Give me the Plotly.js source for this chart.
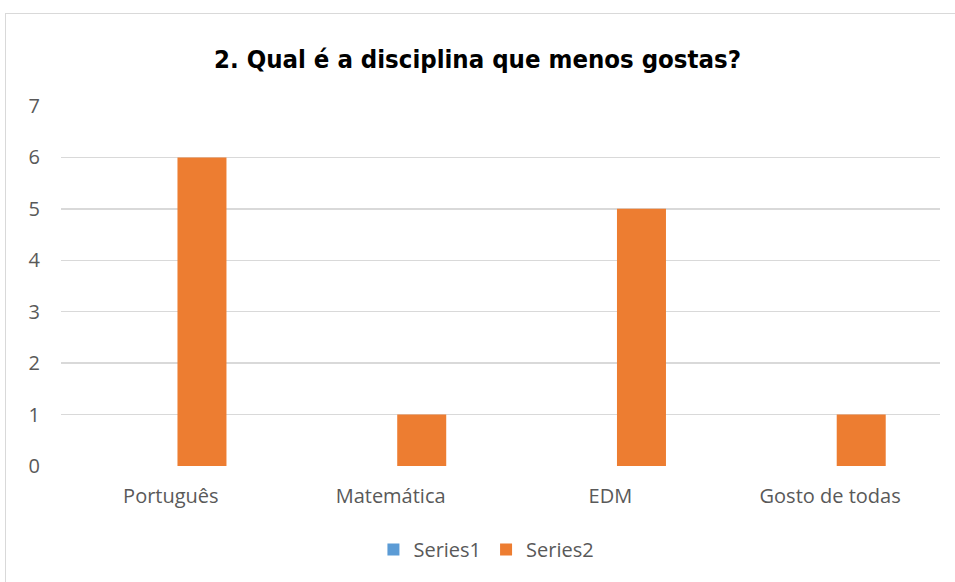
<!DOCTYPE html>
<html>
<head>
<meta charset="utf-8">
<script src="https://cdn.plot.ly/plotly-3.0.1.min.js"></script>
<style>
html,body{margin:0;padding:0;background:#fff;overflow:hidden;}
#frame{position:absolute;left:5px;top:13px;width:980px;height:600px;border:1px solid #D9D9D9;box-sizing:border-box;}
#chart{position:absolute;left:0;top:0;width:955px;height:582px;}
</style>
</head>
<body>
<div id="frame"></div>
<div id="chart"></div>
<script>
const categories = ["Português", "Matemática", "EDM", "Gosto de todas"];
const series1 = [0, 0, 0, 0];
const series2 = [6, 1, 5, 1];
const seriesNames = ["Series1", "Series2"];
const yTicks = [0, 1, 2, 3, 4, 5, 6, 7];

const labelFont = {family: "Open Sans, Segoe UI, sans-serif", size: 20, color: "#595959"};

const traces = [
  {type: "bar", name: seriesNames[0], x: categories, y: series1,
   marker: {color: "#5B9BD5"}, width: 0.223, offset: -0.193},
  {type: "bar", name: seriesNames[1], x: categories, y: series2,
   marker: {color: "#ED7D31"}, width: 0.223, offset: 0.03}
];

const layout = {
  width: 955, height: 582,
  paper_bgcolor: "rgba(0,0,0,0)", plot_bgcolor: "rgba(0,0,0,0)",
  margin: {l: 61, r: 15, t: 106, b: 115.5},
  title: {text: "<b>2. Qual é a disciplina que menos gostas?</b>",
          font: {family: "DejaVu Sans Condensed, sans-serif", size: 25.5, color: "#000"},
          x: 0.5, xanchor: "center", y: 1 - 59/582, yanchor: "middle", yref: "container"},
  barmode: "group",
  showlegend: true,
  legend: {orientation: "h", x: 0.484, xanchor: "center", y: -0.232, yanchor: "middle",
           font: labelFont, itemwidth: 30, traceorder: "normal"},
  xaxis: {type: "category", tickfont: labelFont, showgrid: false, zeroline: false,
          showline: false, ticks: "", ticklabelstandoff: 16},
  yaxis: {range: [0, 7], tickvals: yTicks, tickfont: labelFont, showgrid: true,
          gridcolor: "#D9D9D9", gridwidth: 1.3, zeroline: false, showline: false,
          ticks: "", ticklabelstandoff: 20},
};

Plotly.newPlot("chart", traces, layout, {displayModeBar: false, staticPlot: true});
</script>
</body>
</html>
